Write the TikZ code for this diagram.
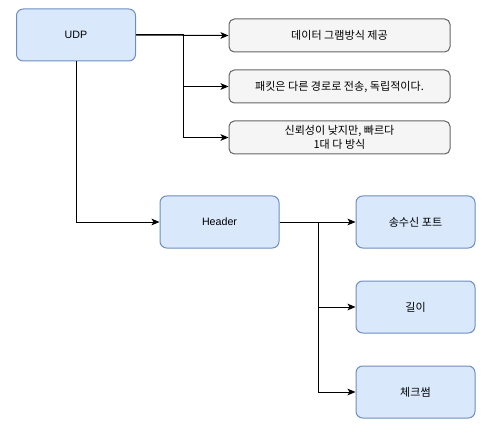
\documentclass[tikz,border=0pt]{standalone}
\usepackage{fontspec}
\setmainfont{Liberation Sans}
\newfontfamily\krfont{Noto Sans CJK KR}
\usetikzlibrary{arrows.meta}
\definecolor{blueFill}{HTML}{DAE8FC}
\definecolor{blueLine}{HTML}{6C8EBF}
\definecolor{grayFill}{HTML}{F5F5F5}
\definecolor{grayLine}{HTML}{666666}
\tikzset{
  bluebox/.style={draw=blueLine,fill=blueFill,line width=0.75pt,rounded corners=5pt,
    minimum width=119*0.75pt,minimum height=52*0.75pt,inner sep=0.75pt,align=center,
    font=\fontsize{8}{10}\selectfont},
  graybox/.style={draw=grayLine,fill=grayFill,line width=0.75pt,rounded corners=4pt,
    minimum width=221*0.75pt,minimum height=33*0.75pt,inner sep=0.75pt,align=center,
    font=\krfont\fontsize{8.3}{10.5}\selectfont},
  conn/.style={draw=black,line width=0.75pt,-{Stealth[length=6pt,width=5pt,inset=1.5pt]}}
}
\begin{document}
\begin{tikzpicture}[x=0.75pt,y=0.75pt,yscale=-1]
\useasboundingbox (0,0) rectangle (496,442);

% Text Node
\node [bluebox] (udp) at (76,35) {UDP};
% Text Node
\node [graybox] (dgram) at (339.5,35.5) {데이터 그램방식 제공};
% Text Node
\node [graybox] (route) at (339.5,86.5) {패킷은 다른 경로로 전송, 독립적이다.};
% Text Node
\node [graybox] (fast) at (339.5,137.5) {신뢰성이 낮지만, 빠르다\\1대 다 방식};
% Text Node
\node [bluebox] (header) at (219.5,222) {Header};
% Text Node
\node [bluebox,font=\krfont\fontsize{8.3}{10}\selectfont] (port) at (415.5,222) {송수신 포트};
% Text Node
\node [bluebox,font=\krfont\fontsize{8.3}{10}\selectfont] (len) at (415.5,307) {길이};
% Text Node
\node [bluebox,font=\krfont\fontsize{8.3}{10}\selectfont] (csum) at (415.5,392) {체크썸};

% Connection
\draw [conn] (udp.east) -- (dgram.west);
% Connection
\draw [conn] (udp.east) -- ++(47,0) |- (route.west);
% Connection
\draw [conn] (udp.east) -- ++(47,0) |- (fast.west);
% Connection
\draw [conn] (udp.south) |- (header.west);
% Connection
\draw [conn] (header.east) -- (port.west);
% Connection
\draw [conn] (header.east) -- ++(39,0) |- (len.west);
% Connection
\draw [conn] (header.east) -- ++(39,0) |- (csum.west);

\end{tikzpicture}
\end{document}
